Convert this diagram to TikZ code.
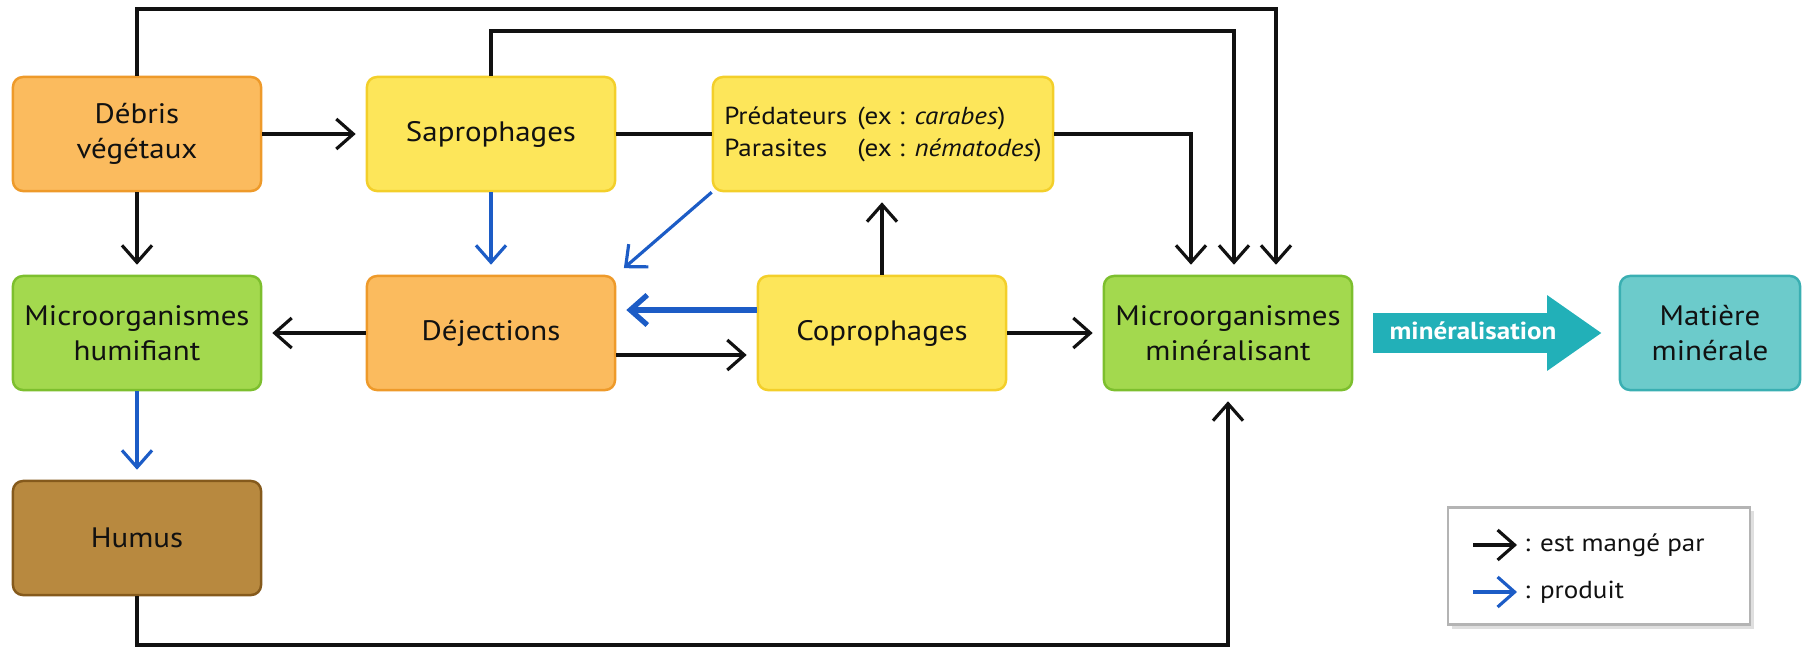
\documentclass[tikz,border=0pt]{standalone}
\usepackage{fontspec}
\setmainfont[FakeStretch=1.1]{PT Sans}
\usetikzlibrary{arrows.meta,shapes.arrows,shadows}

\definecolor{inkblack}{HTML}{111111}
\definecolor{orangefill}{HTML}{FBBB5E}
\definecolor{orangeline}{HTML}{EE9A2A}
\definecolor{yellowfill}{HTML}{FDE65A}
\definecolor{yellowline}{HTML}{F3CF2A}
\definecolor{greenfill}{HTML}{A3D94E}
\definecolor{greenline}{HTML}{7DBF2E}
\definecolor{brownfill}{HTML}{B8893F}
\definecolor{brownline}{HTML}{855A1C}
\definecolor{tealfill}{HTML}{6CCBCB}
\definecolor{tealline}{HTML}{3AAFB2}
\definecolor{mineralteal}{HTML}{22B0B8}
\definecolor{prodblue}{HTML}{1C5CC6}
\definecolor{legendline}{HTML}{B4B4B4}

\begin{document}
\begin{tikzpicture}[x=0.01cm,y=-0.01cm,
    box/.style={draw,line width=0.7pt,rounded corners=1mm,minimum width=\boxwidth cm,minimum height=\boxheight cm,align=center,inner sep=1pt,text=inkblack,font=\boxfontsize},
    orangebox/.style={box,fill=orangefill,draw=orangeline},
    yellowbox/.style={box,fill=yellowfill,draw=yellowline},
    greenbox/.style={box,fill=greenfill,draw=greenline},
    brownbox/.style={box,fill=brownfill,draw=brownline},
    tealbox/.style={box,fill=tealfill,draw=tealline},
    link/.style={draw=inkblack,line width=0.9pt},
    eaten/.style={link,-{Straight Barb[length=1.7mm,width=3mm]},shorten >=1mm},
    produces/.style={eaten,draw=prodblue},
    legendtext/.style={anchor=west,inner sep=0.5pt,text=inkblack,font=\legendfontsize}]
    \pgfmathsetmacro{\boxwidth}{2.48}
    \pgfmathsetmacro{\boxheight}{1.14}
    \pgfmathsetmacro{\predwidth}{3.40}
    \pgfmathsetmacro{\matwidth}{1.80}
    \providecommand{\boxfontsize}{\fontsize{8}{10}\selectfont}
    \providecommand{\predfontsize}{\fontsize{7}{9}\selectfont}
    \providecommand{\legendfontsize}{\fontsize{7}{9}\selectfont}
    \useasboundingbox (0,0) rectangle (1802,648);
    % boxes
    \node[orangebox] (debris) at (137,134) {Débris\\végétaux};
    \node[yellowbox] (sapro) at (491,134) {Saprophages};
    \node[yellowbox,minimum width=\predwidth cm] (pred) at (883,134) {\predfontsize
        \begin{tabular}{@{}l@{\hspace{0.1cm}}l@{}}
        Prédateurs & (ex : \textit{carabes})\\
        Parasites & (ex : \textit{nématodes})
        \end{tabular}};
    \node[greenbox] (humif) at (137,333) {Microorganismes\\humifiant};
    \node[orangebox] (dejec) at (491,333) {Déjections};
    \node[yellowbox] (copro) at (882,333) {Coprophages};
    \node[greenbox] (micromin) at (1228,333) {Microorganismes\\minéralisant};
    \node[tealbox,minimum width=\matwidth cm] (matiere) at (1710,333) {Matière\\minérale};
    \node[brownbox] (humus) at (137,538) {Humus};
    \node[single arrow,fill=mineralteal,minimum height=2.28cm,single arrow head extend=0.18cm,
        single arrow tip angle=70,text height=5pt,text depth=1.5pt,inner ysep=2.2pt,inner xsep=1pt,
        font=\bfseries\predfontsize,text=white] (mineral) at (1473,333) {minéralisation};
    % eaten-by and produces links
    \coordinate (topline) at (1276,9);
    \coordinate (secline) at (1234,31);
    \coordinate (botline) at (137,645);
    \draw[eaten] (debris.north) |- (topline) -- (topline |- micromin.north);
    \draw[eaten] (sapro.north) |- (secline) -- (secline |- micromin.north);
    \draw[eaten] (pred.east) -| ([xshift=-0.37cm]micromin.north);
    \draw[link] (sapro) -- (pred);
    \draw[eaten] (debris) -- (sapro);
    \draw[eaten] (debris) -- (humif);
    \draw[produces] (sapro) -- (dejec);
    \draw[produces] (pred.south west) -- (dejec.north east);
    \draw[produces,line width=1.5pt] ([yshift=0.23cm]copro.west) -- ([yshift=0.23cm]dejec.east);
    \draw[eaten] ([yshift=-0.22cm]dejec.east) -- ([yshift=-0.22cm]copro.west);
    \draw[eaten] (copro.north) -- (copro.north |- pred.south);
    \draw[eaten] (copro) -- (micromin);
    \draw[eaten] (dejec) -- (humif);
    \draw[produces] (humif) -- (humus);
    \draw[eaten] (humus.south) |- (botline -| micromin.south) -- (micromin.south);
    % legend
    \node[draw=legendline,fill=white,line width=0.6pt,minimum width=3.02cm,minimum height=1.17cm,
        drop shadow={opacity=0.25,shadow xshift=0.4mm,shadow yshift=-0.4mm}] (legend) at (1599,566) {};
    \node[legendtext] (legeaten) at (1522,545) {: est mangé par};
    \node[legendtext] (legprod) at (1522,592) {: produit};
    \coordinate (legA) at (1473,545);
    \coordinate (legB) at (1473,592);
    \draw[eaten,shorten >=0.5mm] (legA) -- (legeaten.west);
    \draw[produces,shorten >=0.5mm] (legB) -- (legprod.west);
\end{tikzpicture}
\end{document}
